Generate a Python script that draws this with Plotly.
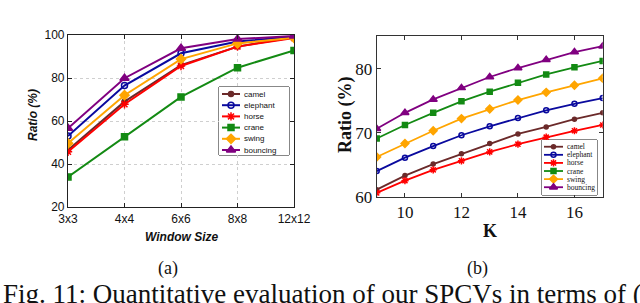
import plotly.graph_objects as go

# ---------------- data ----------------
series_names = ["camel", "elephant", "horse", "crane", "swing", "bouncing"]
colors = ["#6B2A2A", "#0A0A9E", "#FF0000", "#138A13", "#FFA500", "#800080"]
symbols = ["circle", "circle-open", "asterisk-open", "square", "diamond", "triangle-up"]

window_sizes = ["3x3", "4x4", "6x6", "8x8", "12x12"]
camel_a = [46.5, 69, 86, 94.6, 99]
elephant_a = [53, 76.5, 91.5, 97, 99.2]
horse_a = [45.7, 67.8, 85.6, 94.6, 98.6]
crane_a = [34, 52.7, 71.2, 84.8, 92.8]
swing_a = [49.6, 72, 88.8, 96.1, 98.7]
bouncing_a = [56.6, 79.9, 93.8, 98.1, 99.5]
values_a = [camel_a, elephant_a, horse_a, crane_a, swing_a, bouncing_a]

k_values = [9, 10, 11, 12, 13, 14, 15, 16, 17]
camel_b = [61.1, 63.3, 65.1, 66.7, 68.3, 69.8, 70.9, 72.1, 73.1]
elephant_b = [64.0, 66.1, 67.9, 69.6, 71.0, 72.3, 73.5, 74.5, 75.4]
horse_b = [60.6, 62.5, 64.2, 65.6, 67.0, 68.2, 69.3, 70.3, 71.2]
crane_b = [69.1, 71.2, 73.1, 74.9, 76.4, 77.8, 79.1, 80.2, 81.2]
swing_b = [66.2, 68.3, 70.3, 72.2, 73.7, 75.1, 76.3, 77.4, 78.5]
bouncing_b = [70.6, 73.1, 75.2, 77.0, 78.7, 80.1, 81.4, 82.6, 83.5]
values_b = [camel_b, elephant_b, horse_b, crane_b, swing_b, bouncing_b]

ticks_a_y = [20, 40, 60, 80, 100]
ticks_b_x = [10, 12, 14, 16]
ticks_b_y = [60, 70, 80]

caption = "Fig. 11: Quantitative evaluation of our SPCVs in terms of ("

# ---------------- helpers ----------------
W, H = 640, 303
def px(x):
    return x / W
def py(y):
    return 1 - y / H

SANS = "Liberation Sans, Arial, sans-serif"
SERIF = "Liberation Serif, Times New Roman, serif"

msize_a = [5, 6, 7, 6, 7, 8]
msize_b = [4, 5, 6, 5, 6, 7]

fig = go.Figure()

# panel (a)
for name, c, s, v, ms in zip(series_names, colors, symbols, values_a, msize_a):
    fig.add_trace(go.Scatter(
        x=list(range(len(window_sizes))), y=v, mode="lines+markers", name=name,
        line=dict(color=c, width=2),
        marker=dict(symbol=s, size=ms, color=c, line=dict(color=c, width=1.5)),
        xaxis="x", yaxis="y", showlegend=False))

# panel (b)
for name, c, s, v, ms in zip(series_names, colors, symbols, values_b, msize_b):
    fig.add_trace(go.Scatter(
        x=k_values, y=v, mode="lines+markers", name=name,
        line=dict(color=c, width=1.8),
        marker=dict(symbol=s, size=ms, color=c, line=dict(color=c, width=1.5)),
        xaxis="x2", yaxis="y2", showlegend=False))

# custom legends (a) -> x3/y3, (b) -> x4/y4
for i, (name, c, s) in enumerate(zip(series_names, colors, symbols)):
    fig.add_trace(go.Scatter(x=[3, 21], y=[i, i], mode="lines",
                             line=dict(color=c, width=2), xaxis="x3", yaxis="y3",
                             showlegend=False, hoverinfo="skip"))
    fig.add_trace(go.Scatter(x=[12], y=[i], mode="markers",
                             marker=dict(symbol=s, size=msize_a[i], color=c, line=dict(color=c, width=1.5)),
                             xaxis="x3", yaxis="y3", showlegend=False, hoverinfo="skip"))
    fig.add_trace(go.Scatter(x=[2, 21], y=[i, i], mode="lines",
                             line=dict(color=c, width=1.8), xaxis="x4", yaxis="y4",
                             showlegend=False, hoverinfo="skip"))
    fig.add_trace(go.Scatter(x=[11.5], y=[i], mode="markers",
                             marker=dict(symbol=s, size=msize_b[i], color=c, line=dict(color=c, width=1.5)),
                             xaxis="x4", yaxis="y4", showlegend=False, hoverinfo="skip"))

annotations = []
for i, name in enumerate(series_names):
    annotations.append(dict(x=23, y=i, xref="x3", yref="y3", text=name, showarrow=False,
                            xanchor="left", yanchor="middle",
                            font=dict(family=SANS, size=8, color="#111")))
    annotations.append(dict(x=23, y=i, xref="x4", yref="y4", text=name, showarrow=False,
                            xanchor="left", yanchor="middle",
                            font=dict(family=SERIF, size=7.5, color="#111")))

def ann(x, y, text, family, size, angle=0, xanchor="center"):
    return dict(x=px(x), y=py(y), xref="paper", yref="paper", text=text, textangle=angle,
                showarrow=False, xanchor=xanchor, yanchor="middle",
                font=dict(family=family, size=size, color="#111"))

# axis titles and captions
annotations += [
    ann(33, 115, "<b><i>Ratio (%)</i></b>", SANS, 12, -90),
    ann(181.5, 237, "<b><i>Window Size</i></b>", SANS, 12),
    ann(345, 115, "<b>Ratio (%)</b>", SERIF, 18, -90),
    ann(490, 231, "<b>K</b>", SERIF, 18),
    ann(168, 268, "(a)", SERIF, 18),
    ann(477, 268, "(b)", SERIF, 18),
    ann(1, 294, caption, SERIF, 27, xanchor="left"),
]

shapes = [
    dict(type="rect", xref="x3 domain", yref="y3 domain", x0=0, x1=1, y0=0, y1=1,
         line=dict(color="#111", width=1), fillcolor="rgba(0,0,0,0)", layer="below"),
    dict(type="rect", xref="x4 domain", yref="y4 domain", x0=0, x1=1, y0=0, y1=1,
         line=dict(color="#111", width=1), fillcolor="rgba(0,0,0,0)", layer="below"),
]

common = dict(automargin=False, zeroline=False, ticks="inside", ticklen=4,
              showline=True, linewidth=1.2, mirror="ticks",
              tickprefix="<b>", ticksuffix="</b>")

fig.update_layout(
    template="none",
    width=W, height=H, margin=dict(l=0, r=0, t=0, b=0, pad=0, autoexpand=False),
    paper_bgcolor="white", plot_bgcolor="white",
    annotations=annotations, shapes=shapes,
    xaxis=dict(domain=[px(68), px(294)], range=[0, 4], tickvals=list(range(len(window_sizes))),
               ticktext=window_sizes, tickcolor="#222", linecolor="#222",
               showgrid=True, gridcolor="#cfcfcf", griddash="dot", gridwidth=1,
               tickfont=dict(family=SANS, size=12, color="#111"), anchor="y", **common),
    yaxis=dict(domain=[py(207), py(35)], range=[20, 100], tickvals=ticks_a_y,
               tickcolor="#222", linecolor="#222",
               showgrid=True, gridcolor="#cfcfcf", griddash="dot", gridwidth=1,
               tickfont=dict(family=SANS, size=12, color="#111"), anchor="x", **common),
    xaxis2=dict(domain=[px(376.7), px(602.7)], range=[9, 17], tickvals=ticks_b_x,
                tickcolor="#333", linecolor="#333", showgrid=False,
                tickfont=dict(family=SERIF, size=17, color="#111"), anchor="y2", **common),
    yaxis2=dict(domain=[py(196.7), py(36)], range=[60, 85.1], tickvals=ticks_b_y,
                tickcolor="#333", linecolor="#333", showgrid=False,
                tickfont=dict(family=SERIF, size=17, color="#111"), anchor="x2", **common),
    xaxis3=dict(domain=[px(219), px(289)], range=[0, 70], visible=False, anchor="y3",
                automargin=False),
    yaxis3=dict(domain=[py(155), py(87)], range=[5.446, -0.625], visible=False, anchor="x3",
                automargin=False),
    xaxis4=dict(domain=[px(542), px(597)], range=[0, 55], visible=False, anchor="y4",
                automargin=False),
    yaxis4=dict(domain=[py(195), py(140)], range=[5.96, -0.83], visible=False, anchor="x4",
                automargin=False),
)

fig.write_html("out.html", config={"displayModeBar": False},
               post_script="document.body.style.margin='0';document.body.style.overflow='hidden';")
